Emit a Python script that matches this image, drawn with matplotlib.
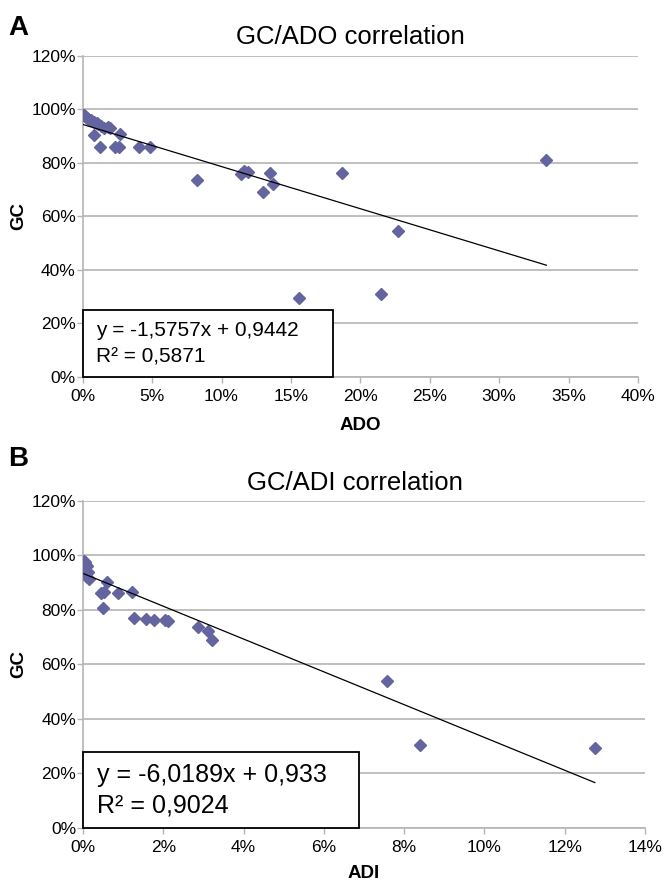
import matplotlib
matplotlib.use("Agg")
import matplotlib.pyplot as plt
import numpy as np
from matplotlib.ticker import FuncFormatter, MultipleLocator
from matplotlib.patches import Rectangle

plt.rcParams['font.family'] = ['Liberation Sans', 'DejaVu Sans']

# Panel A: GC vs ADO (percent)
ado = [0.0, 0.1, 0.2, 0.3, 0.4, 0.5, 0.6, 0.8, 1.0, 1.1, 1.3, 1.5, 1.8, 2.0, 2.7,
       0.8, 1.25, 2.3, 2.6, 4.05, 4.85, 8.2, 11.4, 11.6, 11.9, 13.5, 13.7, 13.0,
       18.7, 33.4, 22.7, 15.6, 21.5]
gc_a = [98, 98, 97.5, 97, 96.5, 96, 96, 95.5, 95, 94.5, 94, 93, 93.5, 93, 91,
        90.5, 86.1, 85.9, 86, 86.1, 85.9, 73.5, 75.8, 77, 76.5, 76.2, 72.3, 69.2,
        76.2, 81, 54.5, 29.5, 31]
eq_a = ["y = -1,5757x + 0,9442", "R² = 0,5871"]
slope_a, icpt_a = -1.5757, 0.9442

# Panel B: GC vs ADI (percent)
adi = [0.02, 0.05, 0.03, 0.08, 0.1, 0.06, 0.12, 0.04, 0.1, 0.15, 0.6, 0.45, 0.53,
       0.87, 1.23, 0.49, 1.28, 1.58, 1.78, 2.05, 2.12, 2.87, 3.12, 3.22, 7.58,
       8.4, 12.75]
gc_b = [98, 97.5, 97, 96.5, 96, 95, 94, 93, 92, 91.2, 90.2, 86.3, 86.5, 86.3,
        86.5, 80.8, 76.8, 76.5, 76.2, 76.3, 75.8, 73.6, 72.2, 69, 54, 30.3, 29.3]
eq_b = ["y = -6,0189x + 0,933", "R² = 0,9024"]
slope_b, icpt_b = -6.0189, 0.933

marker_color = '#6464A0'
grid_color = '#b4b4b4'

fig = plt.figure(figsize=(6.68, 8.86), dpi=100)

def pct(v, pos):
    return f"{v:.0f}%"

def setup(ax, xmax, xstep, xlabel, xpad):
    ax.set_xlim(0, xmax)
    ax.set_ylim(0, 120)
    ax.xaxis.set_major_locator(MultipleLocator(xstep))
    ax.yaxis.set_major_locator(MultipleLocator(20))
    ax.xaxis.set_major_formatter(FuncFormatter(pct))
    ax.yaxis.set_major_formatter(FuncFormatter(pct))
    ax.grid(axis='y', color=grid_color, linewidth=1.2)
    ax.set_axisbelow(True)
    for s in ['top', 'right']:
        ax.spines[s].set_visible(False)
    for s in ['left', 'bottom']:
        ax.spines[s].set_color(grid_color)
        ax.spines[s].set_linewidth(1.2)
    ax.tick_params(axis='both', colors=grid_color, labelcolor='black',
                   labelsize=12.5, length=4, width=1)
    ax.tick_params(axis='x', pad=5)
    ax.tick_params(axis='y', pad=1)
    ax.set_xlabel(xlabel, fontsize=13.5, fontweight='bold', labelpad=xpad)
    ax.set_ylabel('GC', fontsize=13.5, fontweight='bold', labelpad=3)

def eqbox(ax, lines, w, h, tx, ty1, ty2, fs):
    ax.add_patch(Rectangle((0, 0), w, h, transform=ax.transAxes, fc='white',
                           ec='black', lw=1.3, zorder=5, clip_on=False))
    ax.text(tx, ty1, lines[0], transform=ax.transAxes, ha='left', va='center',
            fontsize=fs, zorder=6)
    ax.text(tx, ty2, lines[1], transform=ax.transAxes, ha='left', va='center',
            fontsize=fs, zorder=6)

# Panel A
axA = fig.add_axes([0.1238, 0.5745, 0.8313, 0.3623])
setup(axA, 40, 5, 'ADO', 9)
axA.plot(ado, gc_a, 'D', color=marker_color, ms=6.2, mec=marker_color, zorder=3)
xa = np.array([min(ado), max(ado)])
axA.plot(xa, (slope_a * xa / 100 + icpt_a) * 100, color='black', lw=0.9, zorder=4)
eqbox(axA, eq_a, 0.45, 0.21, 0.024, 0.144, 0.063, 15)
fig.text(350 / 668, 1 - 37 / 886, 'GC/ADO correlation', fontsize=18.5,
         ha='center', va='center')

# Panel B
axB = fig.add_axes([0.1243, 0.0658, 0.8413, 0.3691])
setup(axB, 14, 2, 'ADI', 7)
axB.plot(adi, gc_b, 'D', color=marker_color, ms=6.2, mec=marker_color, zorder=3)
xb = np.array([min(adi), max(adi)])
axB.plot(xb, (slope_b * xb / 100 + icpt_b) * 100, color='black', lw=0.9, zorder=4)
eqbox(axB, eq_b, 0.491, 0.232, 0.025, 0.161, 0.069, 18)
fig.text(355 / 668, 1 - 483 / 886, 'GC/ADI correlation', fontsize=18.5,
         ha='center', va='center')

fig.text(0.012, 0.983, 'A', fontsize=20, fontweight='bold', va='top', ha='left')
fig.text(0.012, 0.497, 'B', fontsize=20, fontweight='bold', va='top', ha='left')

fig.savefig('out.png', dpi=100)
